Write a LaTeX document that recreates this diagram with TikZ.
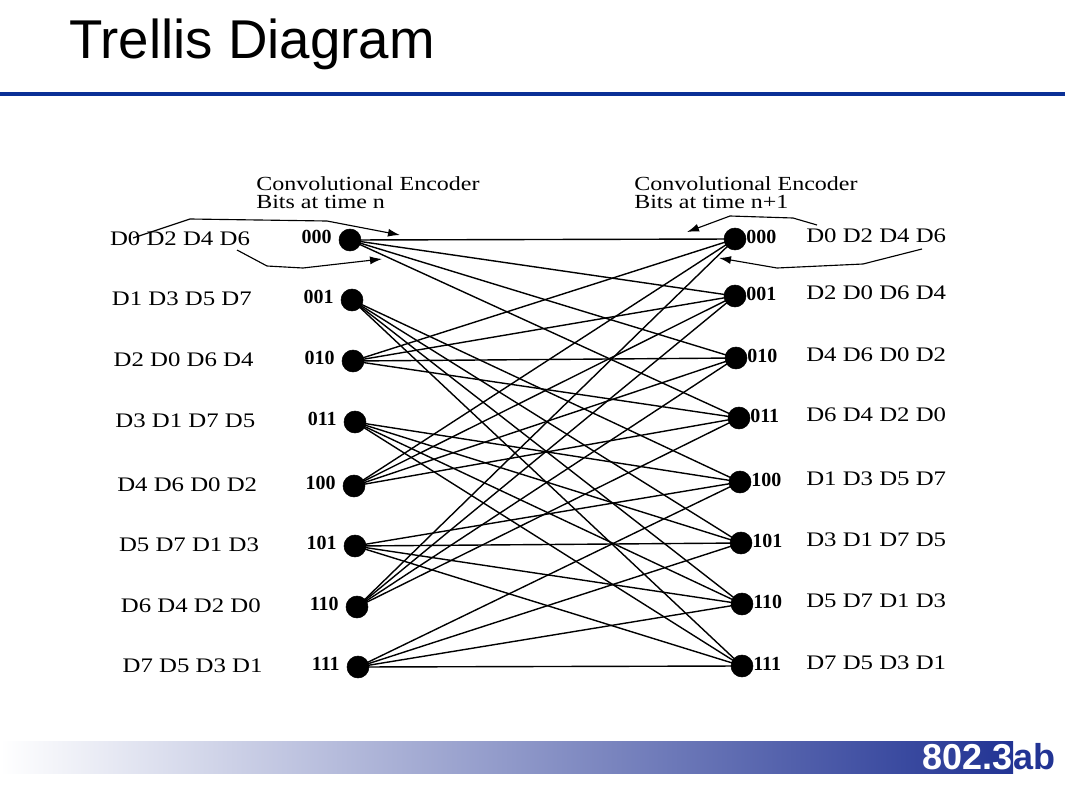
\documentclass[tikz,border=0pt]{standalone}
\usepackage{fontspec}
\setmainfont{Liberation Serif}
\newfontfamily\widefont[FakeStretch=1.2]{Liberation Serif}
\newfontfamily\arialfont{Liberation Sans}
\usetikzlibrary{arrows.meta,positioning}
\definecolor{slideblue}{RGB}{34,52,148}
\definecolor{ruleblue}{RGB}{10,48,150}

\tikzset{
  state/.style={circle,fill=black,draw=black,minimum size=16.5pt,inner sep=0pt},
  bits/.style={font=\bfseries\fontsize{15}{18}\selectfont,inner sep=0pt},
  dlabel/.style={font=\widefont\fontsize{15.5}{18}\selectfont,inner sep=0pt},
  head/.style={font=\widefont\fontsize{15}{18}\selectfont,inner sep=0pt,anchor=base west},
  branch/.style={line width=1.05pt},
  loop/.style={line width=0.85pt,-{Latex[length=9pt,width=6pt]}}
}

\begin{document}
\begin{tikzpicture}[x=0.75pt,y=-0.75pt]
\useasboundingbox (0,0) rectangle (1065,789);
% title bar
\node[font=\arialfont\fontsize{41}{48}\selectfont,anchor=base west,inner sep=0pt] (title) at (69,58) {Trellis Diagram};
\coordinate (ruleL) at (0,94);
\coordinate (ruleR) at (1065,94);
\draw[ruleblue,line width=2.3pt] (ruleL) -- (ruleR);

% headings
\node[head] (hn1) at (256,190) {Convolutional Encoder};
\node[head] (hn2) at (256,208) {Bits at time n};
\node[head] (hm1) at (634,190) {Convolutional Encoder};
\node[head] (hm2) at (634,208) {Bits at time n+1};

% states at time n
\foreach \i/\x/\y/\bits/\dtext in {0/350/240/000/{D0 D2 D4 D6}, 1/352/300/001/{D1 D3 D5 D7},
    2/353/361/010/{D2 D0 D6 D4}, 3/355/422/011/{D3 D1 D7 D5}, 4/354/486/100/{D4 D6 D0 D2},
    5/355/546/101/{D5 D7 D1 D3}, 6/357/607/110/{D6 D4 D2 D0}, 7/358/667/111/{D7 D5 D3 D1}} {
  \node[state] (l\i) at (\x,\y) {};
  \node[bits,anchor=east] (lb\i) at (\x-18,\y-3) {\bits};
  \node[dlabel] (ld\i) at (180+1.8*\i,\y-1) {\dtext};
}

% states at time n+1
\foreach \i/\x/\y/\bits/\dtext in {0/735/239/000/{D0 D2 D4 D6}, 1/735/296/001/{D2 D0 D6 D4},
    2/736/358/010/{D4 D6 D0 D2}, 3/739/418/011/{D6 D4 D2 D0}, 4/740/482/100/{D1 D3 D5 D7},
    5/741/543/101/{D3 D1 D7 D5}, 6/742/604/110/{D5 D7 D1 D3}, 7/742/666/111/{D7 D5 D3 D1}} {
  \node[state] (r\i) at (\x,\y) {};
  \node[bits,anchor=west] (rb\i) at (\x+11,\y-2) {\bits};
  \node[dlabel,anchor=west] (rd\i) at (806,\y-3) {\dtext};
}

% branches
\foreach \s in {0,2,4,6} {
  \foreach \t in {0,...,3} {
    \draw[branch] (l\s.center) -- (r\t.center);
  }
}
\foreach \s in {1,3,5,7} {
  \foreach \t in {4,...,7} {
    \draw[branch] (l\s.center) -- (r\t.center);
  }
}

% loop arrows
\coordinate (la1) at (133,238);
\coordinate (la2) at (400,235);
\draw[loop] (la1) -- (190,219) -- (327,221) -- (la2);
\coordinate (lb1) at (237,250);
\coordinate (lb2) at (382,259);
\draw[loop] (lb1) -- (267,266) -- (303,268) -- (lb2);
\coordinate (ra1) at (817,225);
\coordinate (ra2) at (687,232);
\draw[loop] (ra1) -- (793,218) -- (730,216) -- (ra2);
\coordinate (rb1) at (922,249);
\coordinate (rb2) at (719,258);
\draw[loop] (rb1) -- (863,264) -- (777,268) -- (rb2);

% footer
\shade[left color=white,middle color=slideblue!32,right color=slideblue] (0,741) rectangle (1013,773);
\node[font=\arialfont\bfseries\fontsize{27}{32}\selectfont,text=white,anchor=base east,inner sep=0pt] (tagA) at (1013,769) {802.3};
\node[font=\arialfont\bfseries\fontsize{27}{32}\selectfont,text=slideblue,anchor=base west,inner sep=0pt] (tagB) at (tagA.base east) {ab};
\end{tikzpicture}
\end{document}
